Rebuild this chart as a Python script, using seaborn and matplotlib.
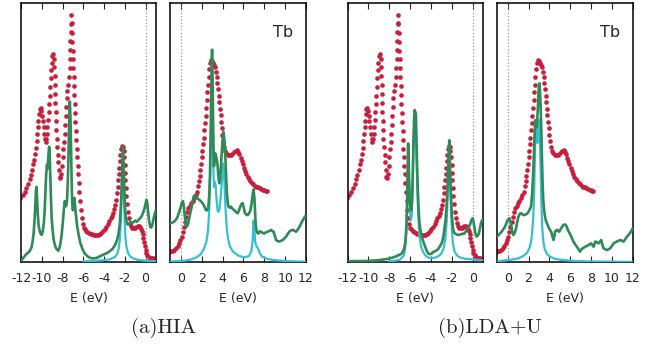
import matplotlib
matplotlib.use("Agg")
import matplotlib.pyplot as plt
import seaborn as sns

# experiment: occupied (XPS-like) spectrum, shared by both methods
exp_occ_e = [-12.05, -11.85, -11.65, -11.5, -11.33, -11.18, -11.05, -10.92, -10.82, -10.72,
             -10.62, -10.55, -10.48, -10.42, -10.37, -10.32, -10.27, -10.2, -10.12, -10.04,
             -9.97, -9.9, -9.82, -9.75, -9.68, -9.62, -9.56, -9.5, -9.45, -9.4,
             -9.35, -9.3, -9.25, -9.2, -9.15, -9.1, -9.04, -8.97, -8.9, -8.83,
             -8.78, -8.75, -8.73, -8.71, -8.69, -8.66, -8.63, -8.59, -8.55, -8.5,
             -8.45, -8.4, -8.34, -8.27, -8.2, -8.12, -8.05, -7.98, -7.92, -7.86,
             -7.8, -7.75, -7.7, -7.65, -7.6, -7.53, -7.45, -7.38, -7.33, -7.3,
             -7.27, -7.25, -7.23, -7.2, -7.16, -7.12, -7.09, -7.06, -7.03, -7.0,
             -6.96, -6.93, -6.9, -6.86, -6.83, -6.8, -6.76, -6.72, -6.68, -6.64,
             -6.6, -6.55, -6.5, -6.45, -6.39, -6.32, -6.25, -6.17, -6.07, -5.97,
             -5.87, -5.75, -5.6, -5.45, -5.3, -5.15, -5.0, -4.85, -4.7, -4.55,
             -4.4, -4.25, -4.1, -3.95, -3.8, -3.65, -3.5, -3.38, -3.25, -3.13,
             -3.02, -2.92, -2.84, -2.77, -2.7, -2.64, -2.58, -2.52, -2.47, -2.42,
             -2.36, -2.28, -2.2, -2.13, -2.07, -2.02, -1.98, -1.94, -1.9, -1.85,
             -1.79, -1.72, -1.63, -1.52, -1.4, -1.28, -1.15, -1.02, -0.9, -0.78,
             -0.67, -0.56, -0.46, -0.37, -0.29, -0.22, -0.15, -0.08, 0.0, 0.08,
             0.18, 0.3, 0.45, 0.6, 0.75]
exp_occ_i = [24.8, 25.8, 27, 28.5, 30, 32, 33.5, 35.5, 37.7, 39.5,
             41.6, 44, 46.7, 49.5, 52, 54.5, 57, 59, 59.6, 58.5,
             56.5, 54.4, 52, 49.5, 47.5, 46.5, 47.5, 49.5, 52, 55,
             58, 61, 64, 67.5, 71, 74, 77, 79.5, 80.2, 78.5,
             75.5, 72, 68.5, 65, 61.5, 58, 54.5, 51, 47.5, 44.5,
             41.5, 38.5, 35.5, 33, 32.3, 34, 37, 40.5, 43.5, 46.5,
             49.5, 53, 56.5, 60, 63.4, 66, 68.5, 71.5, 75, 78.5,
             82, 85.5, 89, 92, 95.5, 92.5, 88.5, 85, 81.5, 78.5,
             75, 71.5, 68, 64.5, 61, 57.5, 54, 50.5, 47, 43.5,
             40.5, 37, 33.8, 30.5, 27, 23.5, 20, 17, 14.8, 13.3,
             12.6, 12, 11.5, 11.2, 11, 10.8, 10.6, 10.5, 10.5, 10.6,
             10.9, 11.3, 12, 12.8, 13.7, 14.7, 15.8, 16.8, 17.8, 19,
             20.5, 22, 24, 26.5, 29, 31.5, 34, 36.5, 39, 41.5,
             43.5, 44.8, 44.5, 43, 40.5, 37.5, 34.5, 31.5, 28.5, 25.5,
             22.5, 19.5, 17, 15, 13.8, 13.2, 13, 13, 13.4, 13.8,
             13.8, 13.4, 12.8, 12, 10.8, 9.3, 7.8, 6.3, 4.8, 3.6,
             2.6, 2, 1.7, 1.6, 1.6]

# experiment: unoccupied (BIS-like) spectrum, shared by both methods
exp_unocc_e = [-1.12, -0.95, -0.8, -0.65, -0.48, -0.32, -0.16, -0.04, 0.06, 0.16,
               0.26, 0.37, 0.48, 0.6, 0.72, 0.85, 0.98, 1.12, 1.26, 1.4,
               1.52, 1.63, 1.72, 1.8, 1.87, 1.94, 2.0, 2.06, 2.12, 2.18,
               2.24, 2.3, 2.36, 2.42, 2.48, 2.54, 2.6, 2.66, 2.72, 2.8,
               2.9, 3.0, 3.1, 3.2, 3.3, 3.38, 3.45, 3.51, 3.57, 3.63,
               3.69, 3.75, 3.81, 3.87, 3.93, 3.99, 4.06, 4.14, 4.24, 4.36,
               4.5, 4.65, 4.8, 4.95, 5.1, 5.25, 5.4, 5.52, 5.62, 5.72,
               5.82, 5.93, 6.04, 6.16, 6.28, 6.4, 6.53, 6.66, 6.8, 6.95,
               7.1, 7.25, 7.4, 7.55, 7.7, 7.85, 8.0, 8.12, 8.22]
exp_unocc_i = [4, 4.2, 4.4, 4.8, 5.3, 6.2, 7.2, 8.5, 9.8, 11.7,
               13.6, 15.5, 17.5, 19.2, 20.7, 21.8, 22.8, 23.7, 24.6, 25.8,
               27.2, 29.2, 31.2, 33.3, 35.5, 38, 40.5, 43, 45.5, 48,
               50.8, 53.5, 56.5, 59.5, 62.5, 65.5, 68.5, 71.5, 74.5, 77,
               78, 77.5, 76.8, 76.2, 75.2, 73.5, 71.5, 69.2, 66.8, 64.3,
               61.8, 59.2, 56.7, 54.2, 51.7, 49.2, 46.8, 44.6, 43, 42,
               41.5, 41.4, 41.5, 41.9, 42.4, 43, 43.2, 42.6, 41.6, 40.3,
               39, 37.7, 36.5, 35.2, 34, 33, 32.1, 31.3, 30.6, 30,
               29.5, 29.1, 28.8, 28.5, 28.3, 28, 27.8, 27.6, 27.5]

# HIA, occupied: total (green) and 4f (cyan)
hia_occ_e = [-12.0, -11.8, -11.5, -11.2, -11.0, -10.9, -10.8, -10.7, -10.62, -10.55,
             -10.5, -10.45, -10.38, -10.3, -10.2, -10.1, -10.0, -9.9, -9.8, -9.72,
             -9.65, -9.58, -9.5, -9.45, -9.38, -9.3, -9.25, -9.2, -9.12, -9.05,
             -8.95, -8.85, -8.7, -8.55, -8.4, -8.25, -8.1, -7.98, -7.88, -7.78,
             -7.7, -7.62, -7.55, -7.48, -7.42, -7.36, -7.3, -7.24, -7.18, -7.12,
             -7.06, -7.0, -6.93, -6.87, -6.8, -6.72, -6.6, -6.45, -6.3, -6.1,
             -5.9, -5.6, -5.3, -5.0, -4.7, -4.4, -4.1, -3.8, -3.5, -3.2,
             -2.95, -2.75, -2.6, -2.48, -2.38, -2.3, -2.24, -2.19, -2.14, -2.08,
             -2.02, -1.95, -1.85, -1.75, -1.6, -1.45, -1.3, -1.15, -1.0, -0.85,
             -0.7, -0.55, -0.4, -0.25, -0.12, 0.0, 0.08, 0.15, 0.25, 0.35,
             0.45, 0.55, 0.65, 0.78, 0.9, 1.0]
hia_occ_tot = [0.4, 1.5, 3, 4, 5.5, 7.5, 10.5, 16, 22, 28.5,
               29, 24, 18, 14, 12, 10.8, 10.5, 12, 15, 20,
               27, 33.5, 37.5, 36, 40, 44.5, 44, 36, 25, 17,
               12, 8.5, 6, 4.8, 4.4, 6, 10, 15, 20, 23.5,
               21.5, 22, 25, 33, 43, 55, 62, 56, 44, 30,
               22, 20, 22.5, 24.8, 22, 18.5, 14, 10.5, 7.5, 5.2,
               3.5, 2.2, 1.5, 1.4, 1.6, 2.2, 2.8, 3.3, 4, 5,
               6.5, 8.5, 11, 15, 22, 30, 38, 44.5, 40, 32,
               24, 19, 16, 14.5, 14.5, 15.5, 15, 15.5, 16, 15.5,
               16.2, 16.8, 17.5, 19, 20.5, 22.5, 24, 23, 19, 15.5,
               13.5, 13.3, 14.5, 17, 19, 20]
hia_occ_4f_e = [-6.0, -5.0, -4.0, -3.5, -3.0, -2.75, -2.6, -2.48, -2.38, -2.3,
                -2.24, -2.19, -2.14, -2.08, -2.02, -1.95, -1.85, -1.7, -1.5, -1.2,
                -0.8, -0.3, 0.3, 1.0]
hia_occ_4f = [0.2, 0.4, 0.7, 1.0, 1.8, 3, 5, 9, 17, 27,
              37, 42, 36, 25, 16, 10, 6, 3.5, 2.2, 1.4,
              0.9, 0.6, 0.4, 0.3]

# HIA, unoccupied
hia_unocc_e = [-1.0, -0.8, -0.64, -0.45, -0.32, -0.15, 0.0, 0.1, 0.2, 0.28,
               0.36, 0.45, 0.54, 0.62, 0.7, 0.82, 0.96, 1.1, 1.22, 1.32,
               1.44, 1.6, 1.76, 1.92, 2.08, 2.25, 2.4, 2.52, 2.63, 2.72,
               2.79, 2.85, 2.9, 2.95, 2.99, 3.03, 3.07, 3.12, 3.17, 3.22,
               3.28, 3.34, 3.42, 3.5, 3.58, 3.65, 3.7, 3.76, 3.84, 3.92,
               4.0, 4.08, 4.14, 4.2, 4.27, 4.34, 4.4, 4.48, 4.56, 4.68,
               4.8, 4.96, 5.13, 5.3, 5.45, 5.58, 5.7, 5.82, 5.93, 6.03,
               6.15, 6.28, 6.4, 6.53, 6.67, 6.78, 6.88, 6.97, 7.05, 7.12,
               7.18, 7.24, 7.34, 7.44, 7.57, 7.7, 7.85, 8.0, 8.17, 8.33,
               8.5, 8.65, 8.78, 8.9, 9.02, 9.13, 9.3, 9.45, 9.62, 9.78,
               9.95, 10.1, 10.25, 10.4, 10.57, 10.74, 10.9, 11.06, 11.22, 11.38,
               11.55, 11.7, 11.85, 12.0]
hia_unocc_tot = [14.9, 15.3, 15.6, 16.5, 17.5, 19.5, 21.5, 23, 23.5, 21.5,
                 18, 15, 13.6, 14, 15, 17.5, 20, 23, 25.2, 25.8,
                 25.2, 24.5, 24, 23.5, 22.7, 21.5, 20, 20, 21, 26,
                 34, 48, 63, 76, 82, 74, 60, 46, 37, 39,
                 42, 41.5, 40, 38, 34, 31, 30.4, 32, 37, 42.5,
                 47, 50.3, 48.5, 45, 40, 33, 27.5, 23.5, 21.4, 21,
                 21.4, 20.5, 20, 19.2, 18.8, 20, 21.4, 22.5, 22.7, 21,
                 18.8, 18.3, 18.1, 18.7, 20, 22.5, 26, 28, 25, 19,
                 14.5, 12.4, 11.2, 11, 11.8, 11.7, 11.2, 11, 11.5, 11.7,
                 12, 12.4, 11.9, 11.7, 10, 8.5, 8, 7.9, 8.2, 8.5,
                 9.2, 9.8, 10.8, 11.7, 12.2, 12.4, 12, 11.7, 12.6, 13.6,
                 15, 16.2, 17.2, 18]
hia_unocc_4f_e = [-1.0, 0.0, 0.5, 1.0, 1.5, 1.9, 2.2, 2.45, 2.6, 2.72,
                  2.8, 2.88, 2.95, 3.02, 3.1, 3.17, 3.24, 3.32, 3.42, 3.52,
                  3.6, 3.7, 3.82, 3.94, 4.04, 4.12, 4.2, 4.3, 4.42, 4.55,
                  4.7, 5.0, 5.5, 6.0, 6.5, 6.75, 6.88, 6.96, 7.04, 7.12,
                  7.25, 7.4, 7.55, 7.8, 8.3, 9.0, 10.0, 11.0, 12.0]
hia_unocc_4f = [0.2, 0.4, 0.6, 1.0, 1.8, 3, 5, 8, 12, 20,
                32, 50, 62, 55, 38, 29, 31, 30, 24, 20,
                19.4, 20.5, 25, 32, 38, 36, 28, 19, 12, 8.5,
                6, 4, 2.5, 1.8, 2.2, 4, 8, 16, 14, 8,
                6, 5.3, 3.5, 2, 1.2, 0.7, 0.4, 0.2, 0.1]

# LDA+U, occupied
ldau_occ_e = [-12.0, -10.0, -9.0, -8.0, -7.46, -7.0, -6.8, -6.6, -6.5, -6.42,
              -6.34, -6.28, -6.23, -6.19, -6.14, -6.08, -6.02, -5.95, -5.88, -5.81,
              -5.74, -5.68, -5.62, -5.56, -5.5, -5.44, -5.39, -5.33, -5.26, -5.18,
              -5.1, -5.0, -4.85, -4.7, -4.55, -4.4, -4.26, -4.1, -3.94, -3.8,
              -3.6, -3.45, -3.3, -3.1, -2.95, -2.82, -2.72, -2.6, -2.5, -2.42,
              -2.34, -2.28, -2.24, -2.2, -2.14, -2.07, -2.0, -1.92, -1.86, -1.75,
              -1.63, -1.5, -1.38, -1.22, -1.06, -0.92, -0.8, -0.68, -0.58, -0.46,
              -0.35, -0.25, -0.16, -0.08, 0.0, 0.07, 0.16, 0.27, 0.38, 0.5,
              0.6, 0.7, 0.8, 0.9, 1.0]
ldau_occ_tot = [0.3, 0.4, 0.7, 1.3, 2, 2.8, 3.3, 4.8, 6.5, 9.5,
                15, 24, 36, 45.8, 40, 30, 23, 20.5, 20, 24,
                34, 46, 55, 58.7, 58, 57, 48, 38, 28, 20,
                15, 12, 9.5, 7.5, 5.9, 4.3, 3.3, 3, 3.2, 3.8,
                4.2, 4.5, 5, 6.3, 7.5, 9.5, 12.4, 16, 21.4, 28,
                36, 44, 47, 43, 33, 25, 18.8, 14.5, 12.4, 11.2,
                10.8, 10.6, 10.4, 10.6, 10.8, 10.9, 11, 11.6, 12.4, 13,
                13.6, 14.5, 15.6, 16.5, 16.9, 16, 13.6, 11, 9.8, 10.2,
                11, 13, 15, 16, 16.5]
ldau_occ_4f_e = [-8.0, -7.0, -6.6, -6.45, -6.35, -6.28, -6.22, -6.18, -6.13, -6.07,
                 -6.0, -5.92, -5.84, -5.76, -5.68, -5.6, -5.54, -5.47, -5.4, -5.32,
                 -5.22, -5.1, -4.95, -4.75, -4.5, -4.2, -3.9, -3.6, -3.3, -3.0,
                 -2.8, -2.62, -2.5, -2.4, -2.32, -2.26, -2.21, -2.15, -2.08, -2.0,
                 -1.9, -1.75, -1.5, -1.2, -0.8, -0.4, 0.0, 0.5, 1.0]
ldau_occ_4f = [0.2, 0.8, 2.5, 6, 12, 22, 34, 40, 35, 26,
               19, 16, 18, 28, 42, 52, 55, 52, 42, 30,
               18, 10, 6, 3.8, 2.4, 1.6, 1.5, 1.7, 2.2, 3.3,
               5, 9, 15, 24, 34, 42, 40, 31, 21, 13,
               7.5, 4.2, 2.5, 1.7, 1.3, 1.1, 1.0, 0.8, 0.7]

# LDA+U, unoccupied
ldau_unocc_e = [-1.0, -0.9, -0.75, -0.58, -0.4, -0.26, -0.12, 0.0, 0.16, 0.25,
                0.32, 0.42, 0.54, 0.65, 0.77, 0.9, 1.03, 1.15, 1.28, 1.45,
                1.6, 1.75, 1.9, 2.08, 2.24, 2.34, 2.42, 2.5, 2.57, 2.64,
                2.7, 2.76, 2.82, 2.88, 2.94, 2.99, 3.05, 3.1, 3.16, 3.22,
                3.28, 3.34, 3.4, 3.48, 3.56, 3.65, 3.78, 3.9, 4.04, 4.17,
                4.28, 4.4, 4.48, 4.55, 4.65, 4.74, 4.84, 4.94, 5.04, 5.13,
                5.25, 5.35, 5.47, 5.58, 5.68, 5.77, 5.9, 6.03, 6.16, 6.3,
                6.46, 6.63, 6.8, 6.95, 7.07, 7.18, 7.3, 7.44, 7.6, 7.76,
                7.9, 8.0, 8.12, 8.24, 8.32, 8.4, 8.56, 8.72, 8.85, 8.97,
                9.08, 9.2, 9.36, 9.52, 9.68, 9.84, 10.0, 10.16, 10.32, 10.48,
                10.64, 10.8, 10.96, 11.12, 11.28, 11.44, 11.58, 11.7, 11.82, 11.92,
                12.0]
ldau_unocc_tot = [10, 10.4, 11, 11.7, 12.8, 13.6, 15, 16.2, 16.9, 15.8,
                  14.3, 12, 10.4, 11, 12.4, 15.2, 17.5, 18.6, 18.8, 18.3,
                  18.1, 18.4, 18.8, 20, 21.4, 26, 32, 40, 48, 54.8,
                  53, 52, 54, 58.5, 64, 68, 69, 66, 60, 52,
                  41, 32, 25, 20.5, 18, 16.2, 14.8, 13.6, 12.5, 11.7,
                  10, 8.5, 10, 11.7, 12.2, 12.4, 12, 11.7, 12.4, 13,
                  13.8, 14.3, 14.5, 14.3, 13.4, 12.4, 11.4, 10.4, 9.2, 7.9,
                  6.9, 5.9, 4.9, 4, 4.8, 5.3, 5.5, 5.9, 6.2, 6.6,
                  6.9, 7.2, 6.6, 5.9, 6.8, 7.9, 7.6, 7.2, 7.8, 8.5,
                  6.8, 5.3, 4.9, 4.6, 4.9, 5.3, 6.2, 7.2, 7.6, 7.9,
                  8.2, 8.5, 8.2, 7.9, 8.8, 9.8, 10.4, 11, 11.7, 12.4,
                  13]
ldau_unocc_4f_e = [-1.0, -0.5, 0.0, 0.5, 1.0, 1.5, 1.9, 2.15, 2.32, 2.45,
                   2.55, 2.62, 2.68, 2.74, 2.8, 2.86, 2.92, 2.98, 3.04, 3.1,
                   3.17, 3.24, 3.32, 3.42, 3.55, 3.75, 4.0, 4.5, 5.0, 6.0,
                   7.0, 8.0, 10.0, 12.0]
ldau_unocc_4f = [0.3, 0.5, 0.7, 1.0, 1.4, 2.3, 3.8, 6, 10, 17,
                 28, 42, 52, 54, 50, 46, 48, 55, 54, 46,
                 34, 22, 13, 8, 5, 3.2, 2.2, 1.3, 0.9, 0.5,
                 0.3, 0.2, 0.1, 0.05]

occ_ticks = [-12, -10, -8, -6, -4, -2, 0]
unocc_ticks = [0, 2, 4, 6, 8, 10, 12]

RED = "#c81e3c"
GREEN = "#2e8b57"
CYAN = "#35bfd2"

sns.set_theme(style="ticks")
plt.rcParams["font.family"] = ["DejaVu Sans"]
plt.rcParams["axes.unicode_minus"] = False


def draw_panel(ax, exp_e, exp_i, tot_e, tot_i, f_e, f_i, xlim, ticks, label=None):
    ax.axvline(0, color="0.6", ls=":", lw=0.9, zorder=1)
    sns.scatterplot(x=exp_e, y=exp_i, ax=ax, color=RED, s=11, linewidth=0, zorder=2)
    sns.lineplot(x=f_e, y=f_i, ax=ax, color=CYAN, lw=1.6, estimator=None, sort=False, zorder=3)
    sns.lineplot(x=tot_e, y=tot_i, ax=ax, color=GREEN, lw=1.9, estimator=None, sort=False, zorder=4)
    ax.set_xlim(*xlim)
    ax.set_ylim(0, 100)
    ax.set_xticks(ticks)
    ax.set_xticklabels([str(t) for t in ticks])
    ax.set_yticks([])
    ax.set_ylabel("")
    ax.set_xlabel("E (eV)", fontsize=9, labelpad=5)
    ax.tick_params(axis="x", direction="in", top=True, bottom=True, length=4.3,
                   width=0.8, labelsize=9, pad=7)
    for sp in ax.spines.values():
        sp.set_visible(True)
        sp.set_linewidth(1.1)
        sp.set_color("black")
    if label:
        ax.text(0.83, 0.885, label, transform=ax.transAxes, fontsize=11.5,
                ha="center", va="center")


fig = plt.figure(figsize=(6.65, 3.47), dpi=100)
bottom, height = 0.245, 0.746
ax1 = fig.add_axes([0.0316, bottom, 0.203, height])
ax2 = fig.add_axes([0.2556, bottom, 0.2045, height])
ax3 = fig.add_axes([0.5226, bottom, 0.2038, height])
ax4 = fig.add_axes([0.7470, bottom, 0.2045, height])

draw_panel(ax1, exp_occ_e, exp_occ_i, hia_occ_e, hia_occ_tot, hia_occ_4f_e, hia_occ_4f,
           (-12, 1), occ_ticks)
draw_panel(ax2, exp_unocc_e, exp_unocc_i, hia_unocc_e, hia_unocc_tot, hia_unocc_4f_e,
           hia_unocc_4f, (-1.05, 12), unocc_ticks, label="Tb")
draw_panel(ax3, exp_occ_e, exp_occ_i, ldau_occ_e, ldau_occ_tot, ldau_occ_4f_e, ldau_occ_4f,
           (-12, 1), occ_ticks)
draw_panel(ax4, exp_unocc_e, exp_unocc_i, ldau_unocc_e, ldau_unocc_tot, ldau_unocc_4f_e,
           ldau_unocc_4f, (-1.05, 12), unocc_ticks, label="Tb")

fig.text(164 / 665, 0.055, "(a)HIA", family="cmr10", fontsize=15, ha="center", va="center")
fig.text(490 / 665, 0.055, "(b)LDA+U", family="cmr10", fontsize=15, ha="center", va="center")

fig.savefig("out.png", dpi=100)
